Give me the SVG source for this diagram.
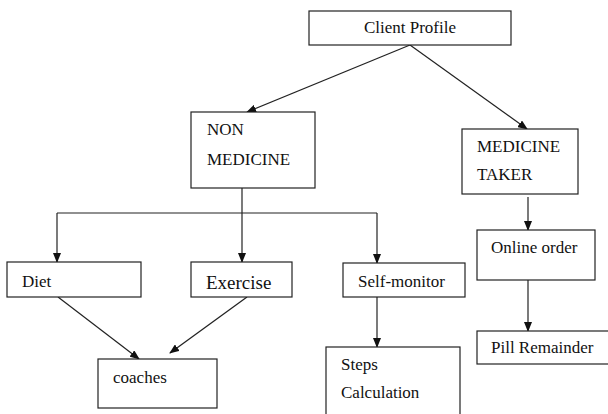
<svg xmlns="http://www.w3.org/2000/svg" width="608" height="414" viewBox="0 0 608 414">
<defs>
<style>
.box{fill:#fff;stroke:#222;stroke-width:1.2}
text{font-family:'Liberation Serif','DejaVu Serif',serif;font-size:17px;fill:#111}
.big{font-size:19px}
.c{fill:none;stroke:#222;stroke-width:1.2}
</style>
<marker id="ah" markerWidth="10" markerHeight="8" refX="9" refY="4" orient="auto" markerUnits="userSpaceOnUse">
<path d="M0,0 L10,4 L0,8 Z" fill="#111"/>
</marker>
</defs>
<rect width="608" height="414" fill="#fff"/>
<g id="connectors">
<line class="c" x1="410" y1="45" x2="247" y2="112" marker-end="url(#ah)"/>
<line class="c" x1="410" y1="45" x2="527" y2="129" marker-end="url(#ah)"/>
<line class="c" x1="242" y1="188" x2="242" y2="213"/>
<line class="c" x1="57" y1="213" x2="377" y2="213"/>
<line class="c" x1="57" y1="213" x2="57" y2="262" marker-end="url(#ah)"/>
<line class="c" x1="242" y1="213" x2="242" y2="262" marker-end="url(#ah)"/>
<line class="c" x1="377" y1="213" x2="377" y2="263" marker-end="url(#ah)"/>
<line class="c" x1="58" y1="297" x2="139" y2="359" marker-end="url(#ah)"/>
<line class="c" x1="247" y1="297" x2="170" y2="353" marker-end="url(#ah)"/>
<line class="c" x1="377" y1="297" x2="377" y2="347" marker-end="url(#ah)"/>
<line class="c" x1="528" y1="197" x2="528" y2="230" marker-end="url(#ah)"/>
<line class="c" x1="528" y1="280" x2="528" y2="331" marker-end="url(#ah)"/>
</g>
<g id="client-profile">
<rect class="box" x="309" y="11" width="202" height="34"/>
<text font-family="Liberation Serif, serif" x="410" y="33" text-anchor="middle">Client Profile</text>
</g>
<g id="non-medicine">
<rect class="box" x="191" y="112" width="124" height="76"/>
<text x="207" y="135">NON</text>
<text x="207" y="165">MEDICINE</text>
</g>
<g id="medicine-taker">
<rect class="box" x="462" y="129" width="116" height="65"/>
<text x="477" y="152">MEDICINE</text>
<text x="477" y="180">TAKER</text>
</g>
<g id="diet">
<rect class="box" x="7" y="262" width="134" height="35"/>
<text x="22" y="287">Diet</text>
</g>
<g id="exercise">
<rect class="box" x="191" y="262" width="101" height="35"/>
<text class="big" x="206" y="289">Exercise</text>
</g>
<g id="self-monitor">
<rect class="box" x="343" y="263" width="122" height="34"/>
<text x="358" y="287">Self-monitor</text>
</g>
<g id="coaches">
<rect class="box" x="98" y="359" width="119" height="49"/>
<text x="113" y="383">coaches</text>
</g>
<g id="steps-calculation">
<rect class="box" x="326" y="347" width="134" height="72"/>
<text x="341" y="370">Steps</text>
<text x="341" y="398">Calculation</text>
</g>
<g id="online-order">
<rect class="box" x="477" y="230" width="118" height="50"/>
<text x="491" y="253">Online order</text>
</g>
<g id="pill-remainder">
<rect class="box" x="477" y="331" width="135" height="33"/>
<text x="491" y="353">Pill Remainder</text>
</g>
</svg>
